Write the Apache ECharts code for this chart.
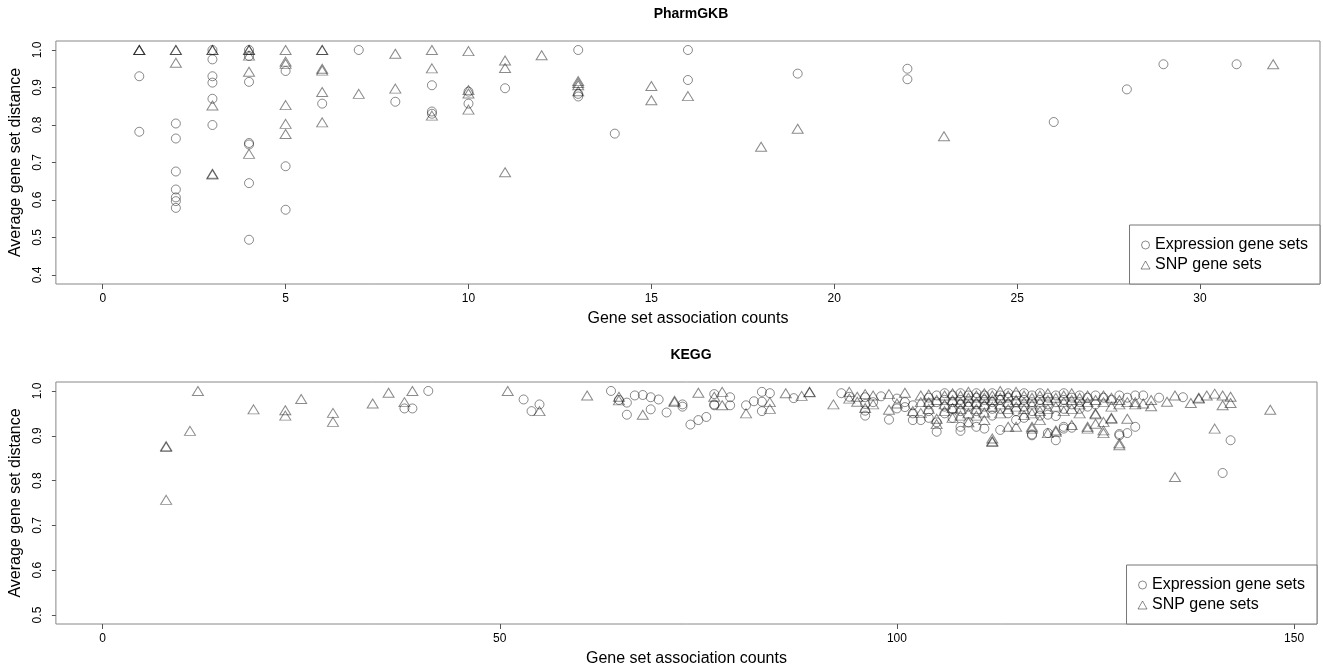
<!DOCTYPE html>
<html>

<head>
    <meta charset="utf-8" />
    <title>Gene set distance</title>
    <script src="https://cdn.jsdelivr.net/npm/echarts@6/dist/echarts.min.js"></script>
    <style>
        body {
            margin: 0;
            background: #fff;
        }
    </style>
</head>

<body>
    <div id="main" style="width: 1323px;height:668px;"></div>
</body>

<script>
    // PharmGKB panel: [count, distance]
    var pharmExpr = [
        [1, 0.93], [1, 0.782],
        [2, 0.804], [2, 0.764], [2, 0.676], [2, 0.628], [2, 0.607], [2, 0.597], [2, 0.579],
        [3, 1.0], [3, 0.975], [3, 0.93], [3, 0.913], [3, 0.87], [3, 0.80],
        [4, 1.0], [4, 0.984], [4, 0.915], [4, 0.752], [4, 0.748], [4, 0.645], [4, 0.494],
        [5, 0.944], [5, 0.69], [5, 0.574],
        [6, 0.857], [7, 1.0], [8, 0.862],
        [9, 0.906], [9, 0.836], [9, 0.83],
        [10, 0.889], [10, 0.857], [11, 0.898],
        [13, 1.0], [13, 0.883], [13, 0.876], [14, 0.777],
        [16, 1.0], [16, 0.92], [19, 0.937], [22, 0.95], [22, 0.922],
        [26, 0.808], [28, 0.895], [29, 0.962], [31, 0.962]
    ];
    var pharmSnp = [
        [1, 1.0], [1, 1.0], [1, 1.0],
        [2, 1.0], [2, 1.0], [2, 0.966],
        [3, 1.0], [3, 1.0], [3, 0.852], [3, 0.67], [3, 0.668],
        [4, 1.0], [4, 1.0], [4, 0.985], [4, 0.942], [4, 0.723],
        [5, 1.0], [5, 0.969], [5, 0.963], [5, 0.853], [5, 0.803], [5, 0.776],
        [6, 1.0], [6, 1.0], [6, 0.95], [6, 0.945], [6, 0.888], [6, 0.807],
        [7, 0.883], [8, 0.99], [8, 0.897],
        [9, 1.0], [9, 0.951], [9, 0.825],
        [10, 0.997], [10, 0.893], [10, 0.884], [10, 0.841],
        [11, 0.972], [11, 0.952], [11, 0.674], [12, 0.986],
        [13, 0.917], [13, 0.912], [13, 0.906], [13, 0.89],
        [15, 0.904], [15, 0.866], [16, 0.877],
        [18, 0.742], [19, 0.79], [23, 0.77], [32, 0.962]
    ];

    // KEGG panel: [count, distance]
    var keggExpr = [
        [38, 0.961], [39, 0.961], [41, 1.0], [53, 0.981], [54, 0.955], [55, 0.97],
        [64, 1.0], [65, 0.98], [66, 0.974], [66, 0.947], [67, 0.99], [68, 0.991],
        [69, 0.986], [69, 0.959], [70, 0.981], [71, 0.952], [73, 0.97], [73, 0.965],
        [74, 0.925], [75, 0.935], [76, 0.942], [77, 0.993], [77, 0.97], [77, 0.968],
        [79, 0.986], [79, 0.968], [81, 0.968], [82, 0.977], [83, 0.998], [83, 0.976],
        [83, 0.955], [84, 0.995], [87, 0.984], [93, 0.995], [94, 0.987],
        [96, 0.986], [96, 0.971], [96, 0.956], [96, 0.945], [97, 0.975], [98, 0.988],
        [99, 0.936], [100, 0.983], [100, 0.961], [101, 0.975], [101, 0.964],
        [102, 0.968], [102, 0.95], [102, 0.935], [103, 0.935],
        [104, 0.985], [104, 0.97], [104, 0.955], [104, 0.94],
        [105, 0.99], [105, 0.975], [105, 0.93], [105, 0.909],
        [106, 0.995], [106, 0.98], [106, 0.965], [106, 0.95],
        [107, 0.99], [107, 0.975], [107, 0.96], [107, 0.94],
        [108, 0.995], [108, 0.98], [108, 0.97], [108, 0.955], [108, 0.92], [108, 0.911],
        [109, 0.99], [109, 0.975], [109, 0.965], [109, 0.93],
        [110, 0.995], [110, 0.985], [110, 0.97], [110, 0.955], [110, 0.92],
        [111, 0.99], [111, 0.98], [111, 0.965], [111, 0.916],
        [112, 0.995], [112, 0.975], [112, 0.96], [112, 0.945],
        [113, 0.99], [113, 0.98], [113, 0.96], [113, 0.913],
        [114, 0.995], [114, 0.985], [114, 0.97], [114, 0.95],
        [115, 0.99], [115, 0.975], [115, 0.955], [115, 0.935],
        [116, 0.995], [116, 0.98], [116, 0.965], [116, 0.94],
        [117, 0.99], [117, 0.975], [117, 0.955], [117, 0.903], [117, 0.901],
        [118, 0.995], [118, 0.98], [118, 0.96], [118, 0.945],
        [119, 0.985], [119, 0.97], [119, 0.947], [119, 0.906],
        [120, 0.99], [120, 0.975], [120, 0.944], [120, 0.89],
        [121, 0.995], [121, 0.98], [121, 0.96], [121, 0.92], [121, 0.916],
        [122, 0.985], [122, 0.97], [122, 0.918],
        [123, 0.99], [123, 0.975], [123, 0.96],
        [124, 0.985], [124, 0.965], [125, 0.99], [125, 0.97],
        [126, 0.985], [127, 0.98], [128, 0.99], [128, 0.904], [128, 0.901],
        [129, 0.985], [129, 0.906], [130, 0.99], [130, 0.92],
        [131, 0.99], [133, 0.985], [136, 0.986], [141, 0.817], [142, 0.89]
    ];
    var keggSnp = [
        [8, 0.877], [8, 0.875], [8, 0.757], [11, 0.911], [12, 1.0], [19, 0.959],
        [23, 0.957], [23, 0.945], [25, 0.982], [29, 0.951], [29, 0.931], [34, 0.972],
        [36, 0.996], [38, 0.975], [39, 1.0], [51, 1.0], [55, 0.955], [61, 0.99],
        [65, 0.987], [65, 0.979], [68, 0.947], [72, 0.978], [72, 0.975], [75, 0.996],
        [77, 0.987], [78, 0.998], [78, 0.968], [81, 0.95], [84, 0.975], [84, 0.96],
        [86, 0.995], [88, 0.989], [89, 0.998], [89, 0.997], [92, 0.97],
        [94, 0.998], [94, 0.983], [95, 0.987], [95, 0.976], [96, 0.993], [96, 0.962],
        [97, 0.99], [97, 0.97], [99, 0.993], [99, 0.958], [100, 0.972], [101, 0.996],
        [102, 0.955], [103, 0.99], [103, 0.975], [103, 0.951],
        [104, 0.992], [104, 0.975], [104, 0.96],
        [105, 0.98], [105, 0.938], [105, 0.926],
        [106, 0.99], [106, 0.97], [106, 0.955],
        [107, 0.995], [107, 0.98], [107, 0.962], [107, 0.94],
        [108, 0.99], [108, 0.975], [108, 0.96], [108, 0.945],
        [109, 0.998], [109, 0.985], [109, 0.97], [109, 0.95], [109, 0.93],
        [110, 0.99], [110, 0.975], [110, 0.96], [110, 0.945],
        [111, 0.995], [111, 0.985], [111, 0.97], [111, 0.952], [111, 0.935],
        [112, 0.99], [112, 0.98], [112, 0.965], [112, 0.894], [112, 0.888], [112, 0.886],
        [113, 1.0], [113, 0.985], [113, 0.97], [113, 0.95],
        [114, 0.99], [114, 0.975], [114, 0.96], [114, 0.92],
        [115, 0.998], [115, 0.98], [115, 0.965], [115, 0.92],
        [116, 0.99], [116, 0.975], [116, 0.96], [116, 0.946],
        [117, 0.985], [117, 0.97], [117, 0.95], [117, 0.92], [117, 0.916],
        [118, 0.99], [118, 0.975], [118, 0.955], [118, 0.935],
        [119, 0.995], [119, 0.98], [119, 0.96], [119, 0.906],
        [120, 0.985], [120, 0.965], [120, 0.912], [120, 0.909],
        [121, 0.99], [121, 0.975], [121, 0.955],
        [122, 0.995], [122, 0.98], [122, 0.96], [122, 0.924],
        [123, 0.985], [123, 0.97], [123, 0.95],
        [124, 0.99], [124, 0.975], [124, 0.92], [124, 0.916],
        [125, 0.98], [125, 0.95], [125, 0.948], [125, 0.927],
        [126, 0.99], [126, 0.975], [126, 0.931], [126, 0.912], [126, 0.906],
        [127, 0.985], [127, 0.965], [127, 0.94], [127, 0.938],
        [128, 0.98], [128, 0.97], [128, 0.883], [128, 0.879],
        [129, 0.975], [129, 0.938], [130, 0.975], [130, 0.97],
        [131, 0.972], [132, 0.98], [132, 0.966],
        [134, 0.976], [135, 0.99], [135, 0.808], [137, 0.973], [138, 0.983], [138, 0.985],
        [139, 0.99], [140, 0.994], [140, 0.916], [141, 0.99], [141, 0.968],
        [142, 0.987], [142, 0.973], [147, 0.958]
    ];

    // tick labels
    var pharmXTicks = [0, 5, 10, 15, 20, 25, 30];
    var pharmYTicks = [0.4, 0.5, 0.6, 0.7, 0.8, 0.9, 1.0];
    var keggXTicks = [0, 50, 100, 150];
    var keggYTicks = [0.5, 0.6, 0.7, 0.8, 0.9, 1.0];

    var font = 'Liberation Sans, Arial, sans-serif';
    var markColor = 'rgba(20,20,20,0.62)';

    function xAxisFor(gi, min, max, ticks) {
        return {
            type: 'value', gridIndex: gi, min: min, max: max,
            name: 'Gene set association counts',
            nameLocation: 'middle', nameGap: 27,
            nameTextStyle: { fontFamily: font, fontSize: 16, color: '#000' },
            axisLine: { show: false, onZero: false },
            splitLine: { show: false },
            axisTick: { show: true, length: 5, customValues: ticks, lineStyle: { color: '#555' } },
            axisLabel: { customValues: ticks, margin: 9, fontFamily: font, fontSize: 12, color: '#000' }
        };
    }

    function yAxisFor(gi, min, max, ticks) {
        return {
            type: 'value', gridIndex: gi, min: min, max: max,
            name: 'Average gene set distance',
            nameLocation: 'middle', nameGap: 24,
            nameTextStyle: { fontFamily: font, fontSize: 16, color: '#000' },
            axisLine: { show: false, onZero: false },
            splitLine: { show: false },
            axisTick: { show: true, length: 4, customValues: ticks, lineStyle: { color: '#555' } },
            axisLabel: {
                customValues: ticks, rotate: 90, margin: 12,
                fontFamily: font, fontSize: 12, color: '#000',
                formatter: function (v) { return v.toFixed(1); }
            }
        };
    }

    function scatter(name, symbol, size, gi, data) {
        return {
            name: name, type: 'scatter', xAxisIndex: gi, yAxisIndex: gi,
            symbol: symbol, symbolSize: size, data: data, silent: true,
            itemStyle: { color: 'rgba(0,0,0,0)', borderColor: markColor, borderWidth: 1 }
        };
    }

    function legendFor(top, right) {
        return {
            top: top, right: right, orient: 'vertical',
            backgroundColor: '#fff', borderColor: '#777', borderWidth: 1,
            padding: [12, 12, 11, 11], itemGap: 4, itemWidth: 9, itemHeight: 8,
            textStyle: { fontFamily: font, fontSize: 16, color: '#000', lineHeight: 16 },
            selectedMode: false,
            data: [
                { name: 'Expression gene sets', icon: 'circle', itemStyle: { color: 'rgba(0,0,0,0)', borderColor: markColor, borderWidth: 1 } },
                { name: 'SNP gene sets', icon: 'triangle', itemStyle: { color: 'rgba(0,0,0,0)', borderColor: markColor, borderWidth: 1 } }
            ]
        };
    }

    var myChart = echarts.init(document.getElementById('main'));

    var option = {
        animation: false,
        backgroundColor: '#fff',
        title: [
            { text: 'PharmGKB', left: 686, top: 2, textAlign: 'center', textStyle: { fontFamily: font, fontSize: 14, fontWeight: 'bold', color: '#000' } },
            { text: 'KEGG', left: 686, top: 343, textAlign: 'center', textStyle: { fontFamily: font, fontSize: 14, fontWeight: 'bold', color: '#000' } }
        ],
        grid: [
            { left: 53, top: 41, width: 1267, height: 243, show: true, borderColor: '#888', borderWidth: 1 },
            { left: 53, top: 382, width: 1264, height: 242, show: true, borderColor: '#888', borderWidth: 1 }
        ],
        legend: [legendFor(225, 3), legendFor(565, 6)],
        xAxis: [
            xAxisFor(0, -1.28, 33.28, pharmXTicks),
            xAxisFor(1, -5.88, 152.88, keggXTicks)
        ],
        yAxis: [
            yAxisFor(0, 0.376, 1.024, pharmYTicks),
            yAxisFor(1, 0.48, 1.02, keggYTicks)
        ],
        series: [
            scatter('Expression gene sets', 'circle', 9, 0, pharmExpr),
            scatter('SNP gene sets', 'triangle', [11, 9], 0, pharmSnp),
            scatter('Expression gene sets', 'circle', 9, 1, keggExpr),
            scatter('SNP gene sets', 'triangle', [11, 9], 1, keggSnp)
        ]
    };

    myChart.setOption(option);
</script>

</html>
